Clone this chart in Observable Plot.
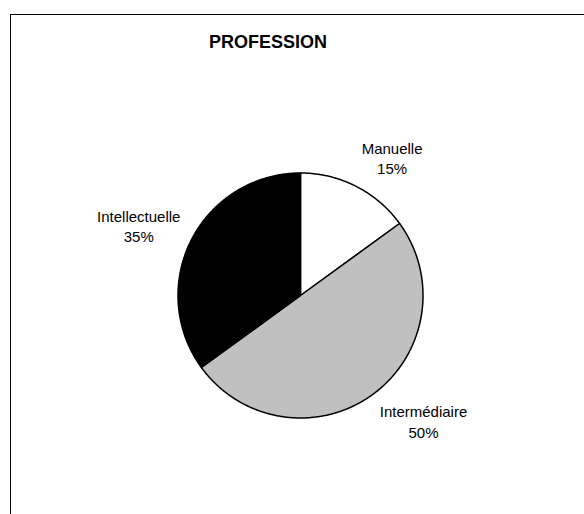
<!DOCTYPE html>
<html><head><meta charset="utf-8">
<script src="https://cdn.jsdelivr.net/npm/d3@7"></script>
<script src="https://cdn.jsdelivr.net/npm/@observablehq/plot@0.6"></script>
<style>
body{margin:0;background:#fff;}
#wrap{position:relative;width:584px;height:514px;overflow:hidden;font-family:"Liberation Sans",Arial,sans-serif;}
#chart{position:absolute;left:0;top:0;}
#frame{position:absolute;left:10px;top:14px;width:700px;height:700px;border-left:1px solid #000;border-top:1px solid #000;}
#title{position:absolute;left:0;width:536px;top:32px;line-height:20px;text-align:center;font-weight:bold;font-size:18px;color:#000;}
</style></head><body>
<div id="wrap"><div id="chart"></div><div id="frame"></div><div id="title"></div></div>
<script>
const chartTitle = "PROFESSION";
const categories = ["Manuelle", "Intermédiaire", "Intellectuelle"];
const values = [15, 50, 35];
const colors = ["#ffffff", "#c0c0c0", "#000000"];

document.getElementById("title").textContent = chartTitle;

const W = 584, H = 514, cx = 300, cy = 295, R = 122.5;
const fontFamily = '"Liberation Sans", Arial, sans-serif';
const fontSize = 15;

const total = d3.sum(values);
const arcs = d3.pie().sort(null).value(d => d)(values); // angles clockwise from 12 o'clock

// slice outlines: centre -> arc -> centre
const slicePts = [];
arcs.forEach((a, i) => {
  const n = Math.max(2, Math.ceil((a.endAngle - a.startAngle) / (Math.PI / 360)));
  slicePts.push({cat: categories[i], color: colors[i], x: 0, y: 0});
  for (let k = 0; k <= n; k++) {
    const t = a.startAngle + (a.endAngle - a.startAngle) * k / n;
    slicePts.push({cat: categories[i], color: colors[i], x: Math.sin(t), y: Math.cos(t)});
  }
  slicePts.push({cat: categories[i], color: colors[i], x: 0, y: 0});
});

// label placement outside the pie, along the mid angle
const ctx = document.createElement("canvas").getContext("2d");
ctx.font = `${fontSize}px ${fontFamily}`;
const labels = arcs.map((a, i) => {
  const pct = Math.round(values[i] / total * 100) + "%";
  const text = categories[i] + "\n" + pct;
  const w = Math.max(ctx.measureText(categories[i]).width, ctx.measureText(pct).width);
  const m = (a.startAngle + a.endAngle) / 2;
  const ux = Math.sin(m), uy = Math.cos(m);
  const d = 1.1; // in radius units
  const px = d * ux + Math.sign(ux) * (w / 2) / R;
  const py = d * uy + uy * 20 / R;
  return {text, x: px, y: py};
});

const plot = Plot.plot({
  width: W, height: H,
  marginLeft: cx - R, marginRight: W - cx - R,
  marginTop: cy - R, marginBottom: H - cy - R,
  x: {domain: [-1, 1], axis: null},
  y: {domain: [-1, 1], axis: null},
  color: {type: "identity"},
  style: {background: "transparent", fontFamily},
  marks: [
    Plot.line(slicePts, {x: "x", y: "y", z: "cat", fill: "color", stroke: "#000", strokeWidth: 1.5, strokeLinejoin: "round", curve: "linear"}),
    Plot.text(labels, {x: "x", y: "y", text: "text", fontSize, lineHeight: 1.37, textAnchor: "middle", lineAnchor: "middle", fill: "#000"})
  ]
});
document.getElementById("chart").appendChild(plot);
</script>
</body></html>
